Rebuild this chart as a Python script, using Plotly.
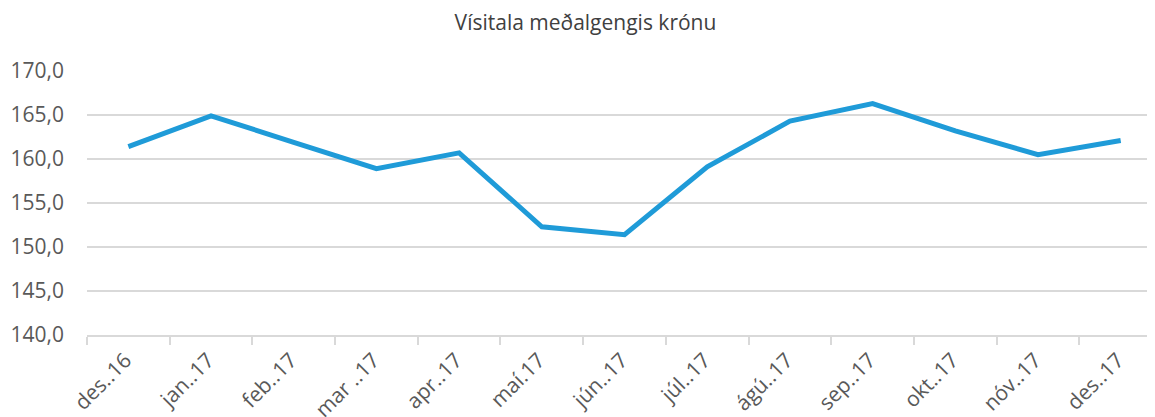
import plotly.graph_objects as go

# Vísitala meðalgengis krónu, monthly values
months = ["des..16", "jan..17", "feb..17", "mar ..17", "apr..17", "maí.17", "jún..17",
          "júl..17", "ágú..17", "sep..17", "okt..17", "nóv..17", "des..17"]
index_values = [161.4, 164.9, 161.9, 158.9, 160.7, 152.3, 151.4,
                159.1, 164.3, 166.3, 163.2, 160.5, 162.1]

y_ticks = [140, 145, 150, 155, 160, 165, 170]

fig = go.Figure()

fig.add_trace(go.Scatter(
    x=list(range(len(months))),
    y=index_values,
    mode='lines',
    line=dict(color='#1F9BD8', width=5),
    showlegend=False
))

fig.update_layout(
    title=dict(text='Vísitala meðalgengis krónu', x=0.5, xanchor='center',
               y=1 - 15 / 417, yanchor='middle',
               font=dict(family='Open Sans', size=21, color='#404040')),
    width=1155,
    height=417,
    margin=dict(l=79, r=15, t=63, b=90),
    plot_bgcolor='white',
    paper_bgcolor='white',
    separators=',.',
    font=dict(family='Open Sans', size=21, color='#595959'),
)

fig.update_xaxes(
    tickmode='array',
    tickvals=list(range(len(months))),
    ticktext=months,
    tickangle=-45,
    ticks='',
    ticklabelshift=-3,
    ticklabelstandoff=3,
    # Excel-style tick marks between categories
    minor=dict(tick0=-0.5, dtick=1, ticks='outside', ticklen=8,
               tickcolor='#D9D9D9', tickwidth=1.5),
    range=[-0.5, 12.33],
    showgrid=False,
    showline=True,
    linecolor='#D9D9D9',
    linewidth=1.5,
    zeroline=False,
    automargin=False,
)

fig.update_yaxes(
    range=[140, 170],
    tickvals=y_ticks,
    tickformat='.1f',
    showgrid=True,
    gridcolor='#D9D9D9',
    gridwidth=1.5,
    zeroline=False,
    ticks='',
    ticklabelstandoff=22,
    automargin=False,
)

fig.write_html("out.html")
